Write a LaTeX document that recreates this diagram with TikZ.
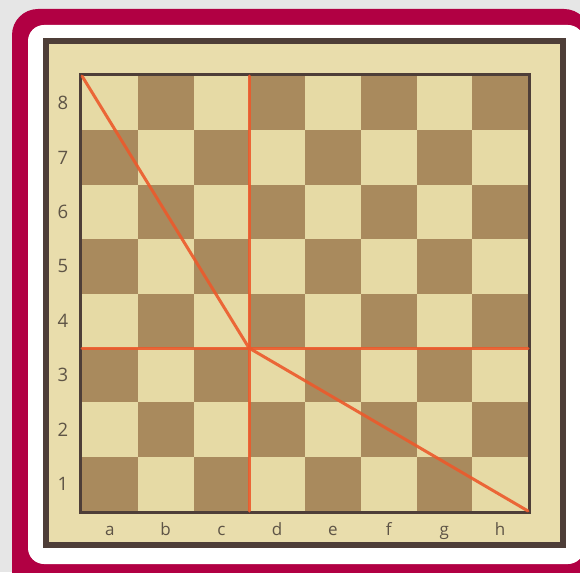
\documentclass[tikz,border=0pt]{standalone}
\usepackage{fontspec}
\setmainfont{Open Sans}
\definecolor{bg}{HTML}{E6E6E6}
\definecolor{crimson}{HTML}{B10043}
\definecolor{frameline}{HTML}{4E3E38}
\definecolor{framefill}{HTML}{E9DDAC}
\definecolor{lightsq}{HTML}{E6DAA5}
\definecolor{darksq}{HTML}{A98A5D}
\definecolor{labelc}{HTML}{5E5446}
\definecolor{redline}{HTML}{EC5A2C}
\tikzset{
  rowlabel/.style={font=\fontsize{18.5}{18.5}\selectfont, text=labelc, inner sep=0pt},
  collabel/.style={font=\fontsize{17}{17}\selectfont, text=labelc, inner sep=0pt, anchor=base},
  redpath/.style={draw=redline, line width=3pt, line join=round, line cap=round, opacity=0.9}
}
\begin{document}
\begin{tikzpicture}[x=1pt,y=-1pt]
\useasboundingbox (0,0) rectangle (580,572);
\clip (0,0) rectangle (580,572);
\fill[bg] (0,0) rectangle (580,572);
% crimson frame
\fill[crimson, rounded corners=26pt] (12,9) rectangle (590,600);
\fill[white, rounded corners=16pt] (28,25) rectangle (584,564);
% board outer frame
\filldraw[fill=framefill, draw=frameline, line width=6pt] (46,41) rectangle (563,545);
% squares
\foreach \c in {0,...,7}{
  \foreach \r in {0,...,7}{
    \pgfmathsetmacro{\xa}{82+\c*55.75}
    \pgfmathsetmacro{\ya}{76+\r*54.375}
    \pgfmathtruncatemacro{\sqparity}{mod(\c+\r,2)}
    \ifnum\sqparity=0
      \fill[lightsq] (\xa,\ya) rectangle ++(55.75,54.375);
    \else
      \fill[darksq] (\xa,\ya) rectangle ++(55.75,54.375);
    \fi
  }
}
\draw[frameline, line width=3.5pt] (80.5,74.5) rectangle (529.5,512.5);
% labels
\foreach \n [count=\i from 0] in {8,7,6,5,4,3,2,1}{
  \node[rowlabel] (row\n) at (63,{76+27.19+\i*54.375}) {\n};
}
\foreach \l [count=\i from 0] in {a,b,c,d,e,f,g,h}{
  \node[collabel] (col\l) at ({82+27.875+\i*55.75},535) {\l};
}
% red lines
\coordinate (topleft) at (82,76);
\coordinate (center) at (249,348);
\coordinate (botright) at (528,511);
\coordinate (vtop) at (249,76);
\coordinate (vbot) at (249,511);
\coordinate (hleft) at (82,348);
\coordinate (hright) at (528,348);
\draw[redpath] (vtop) -- (vbot);
\draw[redpath] (hleft) -- (hright);
\draw[redpath] (topleft) -- (center) -- (botright);
\end{tikzpicture}
\end{document}
